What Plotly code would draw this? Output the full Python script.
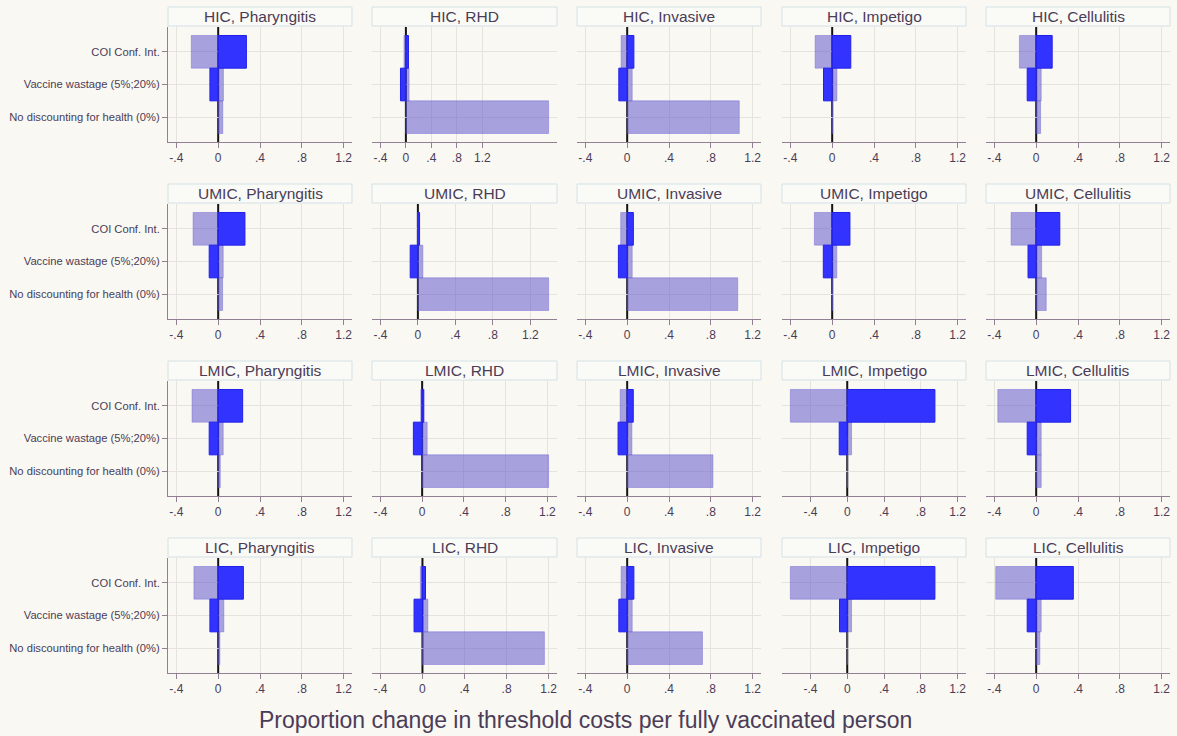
import plotly.graph_objects as go

# ---------------- data ----------------
regions = ["HIC", "UMIC", "LMIC", "LIC"]
conditions = ["Pharyngitis", "RHD", "Invasive", "Impetigo", "Cellulitis"]
parameters = ["COI Conf. Int.", "Vaccine wastage (5%;20%)", "No discounting for health (0%)"]
tick_vals = [-0.4, 0, 0.4, 0.8, 1.2]
tick_text = ["-.4", "0", ".4", ".8", "1.2"]

# light bars (first scenario) per condition: [COI, wastage, no discounting]
hic_light = [[-0.257, 0.050, 0.044], [-0.030, 0.050, 2.240], [-0.058, 0.048, 1.072],
             [-0.163, 0.045, 0.005], [-0.160, 0.048, 0.042]]
umic_light = [[-0.240, 0.048, 0.042], [-0.006, 0.053, 1.395], [-0.062, 0.048, 1.057],
              [-0.170, 0.044, 0.005], [-0.240, 0.052, 0.096]]
lmic_light = [[-0.250, 0.048, 0.020], [-0.013, 0.048, 1.212], [-0.067, 0.045, 0.820],
              [-0.618, 0.047, 0.005], [-0.367, 0.048, 0.048]]
lic_light = [[-0.232, 0.054, 0.016], [-0.020, 0.051, 1.160], [-0.058, 0.048, 0.720],
             [-0.618, 0.047, 0.004], [-0.387, 0.048, 0.035]]

# dark blue bars (second scenario)
hic_blue = [[0.270, -0.079, None], [0.040, -0.085, None], [0.064, -0.080, None],
            [0.178, -0.083, None], [0.153, -0.086, None]]
umic_blue = [[0.256, -0.086, None], [0.018, -0.082, None], [0.059, -0.084, None],
             [0.170, -0.085, None], [0.226, -0.078, None]]
lmic_blue = [[0.234, -0.086, None], [0.016, -0.084, None], [0.058, -0.087, None],
             [0.953, -0.087, None], [0.329, -0.086, None]]
lic_blue = [[0.241, -0.079, None], [0.029, -0.080, None], [0.064, -0.080, None],
            [0.953, -0.084, None], [0.355, -0.086, None]]

light_by_region = [hic_light, umic_light, lmic_light, lic_light]
blue_by_region = [hic_blue, umic_blue, lmic_blue, lic_blue]

# ---------------- styling / layout ----------------
W, H = 1177, 736
BG = "#f9f8f2"
TXT = "#4b3c58"
AXC = "#927f94"
GRID = "#e4e4dc"
LIGHT = "rgba(86,76,200,0.5)"
LIGHT_LINE = "rgba(110,100,215,0.45)"
BLUE = "#3333ff"
BLUE_LINE = "#2020e8"
FONT = "Liberation Sans, Arial, sans-serif"

col_px = [(168, 352), (372, 557), (577, 761), (782, 966), (986, 1170)]
row_top0, row_h, row_step, strip_h = 27, 115, 177, 19


def px_x(v):
    return v / W


def px_y(v):
    return 1 - v / H


fig = go.Figure()
layout = dict(
    width=W, height=H, paper_bgcolor=BG, plot_bgcolor=BG,
    margin=dict(l=0, r=0, t=0, b=0), showlegend=False, barmode="overlay",
    font=dict(family=FONT, color=TXT, size=12),
)
shapes, annotations = [], []
grid_vals = [v for v in tick_vals if v != 0]

k = 0
for r, reg in enumerate(regions):
    for c, cond in enumerate(conditions):
        k += 1
        xa = "x" if k == 1 else f"x{k}"
        ya = "y" if k == 1 else f"y{k}"
        light = light_by_region[r][c]
        blue = blue_by_region[r][c]

        fig.add_trace(go.Bar(
            y=parameters, x=light, orientation="h", width=1,
            marker=dict(color=LIGHT, line=dict(color=LIGHT_LINE, width=1)),
            xaxis=xa, yaxis=ya, hoverinfo="x+y"))
        fig.add_trace(go.Bar(
            y=parameters, x=blue, orientation="h", width=1,
            marker=dict(color=BLUE, line=dict(color=BLUE_LINE, width=1)),
            xaxis=xa, yaxis=ya, hoverinfo="x+y"))

        vals = [v for v in light + blue if v is not None]
        lo = min(tick_vals[0], min(vals))
        hi = max(tick_vals[-1], max(vals))
        pad = 0.05 * (hi - lo)

        x0p, x1p = col_px[c]
        top = row_top0 + r * row_step
        bot = top + row_h

        layout["xaxis" if k == 1 else f"xaxis{k}"] = dict(
            domain=[px_x(x0p), px_x(x1p)], anchor=ya, range=[lo - pad, hi + pad],
            tickvals=tick_vals, ticktext=tick_text, showline=True, linecolor=AXC,
            linewidth=1, ticks="outside", ticklen=5, tickcolor=AXC,
            showgrid=False, zeroline=False,
            minor=dict(tickmode="array", tickvals=grid_vals, showgrid=True,
                       gridcolor=GRID, gridwidth=1, ticks=""),
            tickfont=dict(size=12, color=TXT), fixedrange=True,
        )
        first_col = (c == 0)
        layout["yaxis" if k == 1 else f"yaxis{k}"] = dict(
            domain=[px_y(bot), px_y(top)], anchor=xa, type="category",
            categoryorder="array", categoryarray=parameters[::-1],
            range=[-0.76, 2.76], showgrid=True, gridcolor=GRID, gridwidth=1,
            zeroline=False, showline=first_col, linecolor=AXC, linewidth=1,
            ticks="outside" if first_col else "", ticklen=5, tickcolor=AXC,
            showticklabels=first_col, tickfont=dict(size=11.2, color=TXT),
            fixedrange=True,
        )

        # vertical reference line at zero
        shapes.append(dict(
            type="line", xref=xa, yref="paper", x0=0, x1=0,
            y0=px_y(bot), y1=px_y(top),
            line=dict(color="#141414", width=2), layer="below"))

        # strip header
        shapes.append(dict(
            type="rect", xref="paper", yref="paper",
            x0=px_x(x0p), x1=px_x(x1p), y0=px_y(top - 1), y1=px_y(top - 1 - strip_h),
            fillcolor="#fafaf6", line=dict(color="#d4e1e6", width=1), layer="above"))
        annotations.append(dict(
            text=f"{reg}, {cond}", xref="paper", yref="paper",
            x=px_x((x0p + x1p) / 2), y=px_y(top - 1 - strip_h / 2),
            xanchor="center", yanchor="middle", showarrow=False,
            font=dict(size=15.5, color=TXT, family=FONT)))

annotations.append(dict(
    text="Proportion change in threshold costs per fully vaccinated person",
    xref="paper", yref="paper", x=px_x(585), y=px_y(720),
    xanchor="center", yanchor="middle", showarrow=False,
    font=dict(size=23, color=TXT, family=FONT)))

layout["shapes"] = shapes
layout["annotations"] = annotations
fig.update_layout(**layout)
fig.write_html("out.html", config={"displayModeBar": False},
               post_script="document.body.style.margin='0px';document.body.style.background='#f9f8f2';")
